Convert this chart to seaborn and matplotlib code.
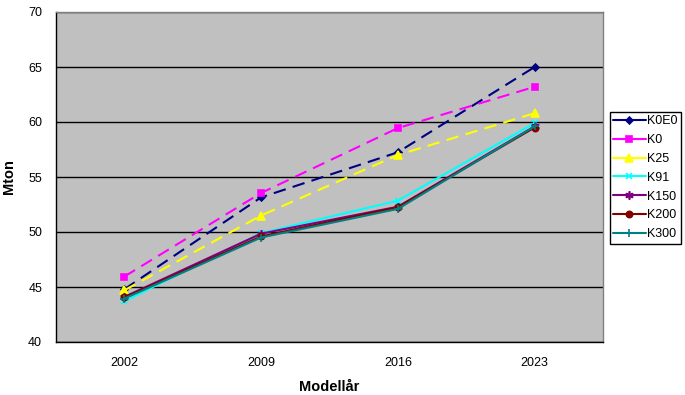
import matplotlib
matplotlib.use("Agg")
import matplotlib.pyplot as plt
import seaborn as sns
import pandas as pd

years = ["2002", "2009", "2016", "2023"]
series_names = ["K0E0", "K0", "K25", "K91", "K150", "K200", "K300"]
K0E0 = [44.8, 53.15, 57.25, 65.0]
K0 = [45.95, 53.55, 59.45, 63.2]
K25 = [44.7, 51.5, 57.0, 60.8]
K91 = [43.7, 49.9, 52.85, 59.9]
K150 = [44.1, 49.85, 52.3, 59.6]
K200 = [44.05, 49.6, 52.25, 59.5]
K300 = [43.95, 49.5, 52.1, 59.6]
values = [K0E0, K0, K25, K91, K150, K200, K300]

colors = ["#000080", "#FF00FF", "#FFFF00", "#00FFFF", "#800080", "#800000", "#008080"]
markers = ["D", "s", "^", "x", (6, 2, 0), "o", "+"]
msizes = [3.5, 5, 5.5, 5, 6, 4.5, 6]
dashed = [True, True, True, False, False, False, False]

rows = []
for name, vals in zip(series_names, values):
    for i, v in enumerate(vals):
        rows.append({"series": name, "idx": i, "Mton": v})
df = pd.DataFrame(rows)

sns.set_theme(style="white")
plt.rcParams["font.family"] = ["Liberation Sans", "DejaVu Sans"]
plt.rcParams["text.color"] = "black"
plt.rcParams["xtick.color"] = "black"
plt.rcParams["ytick.color"] = "black"
plt.rcParams["axes.labelcolor"] = "black"

fig = plt.figure(figsize=(6.85, 3.95), dpi=100)
ax = fig.add_axes([56 / 685, 1 - 342 / 395, (603 - 56) / 685, (342 - 12) / 395])
ax.set_facecolor("#C0C0C0")

for name, c, m, ms, d in zip(series_names, colors, markers, msizes, dashed):
    sub = df[df["series"] == name]
    sns.lineplot(data=sub, x="idx", y="Mton", ax=ax, color=c, marker=m,
                 markersize=ms, markeredgecolor=c, markerfacecolor=c,
                 markeredgewidth=1.2, linewidth=1.5, label=name,
                 linestyle=(0, (6, 3.5)) if d else "-", zorder=3)

ax.set_xlim(-0.5, 3.5)
ax.set_ylim(40, 70)
ax.set_yticks(range(40, 71, 5))
ax.yaxis.grid(True, color="black", linewidth=1)
ax.xaxis.grid(False)
ax.set_xticks(range(4))
ax.set_xticklabels(years)
ax.set_xticks([-0.5, 0.5, 1.5, 2.5, 3.5], minor=True)
ax.tick_params(axis="x", which="major", length=0, pad=11, labelsize=9)
ax.tick_params(axis="x", which="minor", length=4, width=1, color="black", direction="out")
ax.tick_params(axis="y", which="major", length=4, width=1, color="black", direction="out", labelsize=9, pad=6)
for s in ["top", "right"]:
    ax.spines[s].set_color("#808080")
for s in ["left", "bottom"]:
    ax.spines[s].set_color("black")
for s in ax.spines.values():
    s.set_linewidth(1)

ax.set_xlabel("Modellår", fontsize=10.5, fontweight="bold", labelpad=8)
ax.set_ylabel("Mton", fontsize=10.5, fontweight="bold", labelpad=9)

leg = ax.legend(loc="upper left", bbox_to_anchor=(610 / 685, 1 - 112 / 395),
                bbox_transform=fig.transFigure, frameon=True, fancybox=False,
                edgecolor="black", facecolor="white", framealpha=1,
                fontsize=9, handlelength=2.6, handletextpad=0.15,
                labelspacing=0.55, borderpad=0.25, borderaxespad=0)
for h in leg.get_lines():
    h.set_linestyle("-")
leg.get_frame().set_linewidth(1)

fig.savefig("out.png", dpi=100)
